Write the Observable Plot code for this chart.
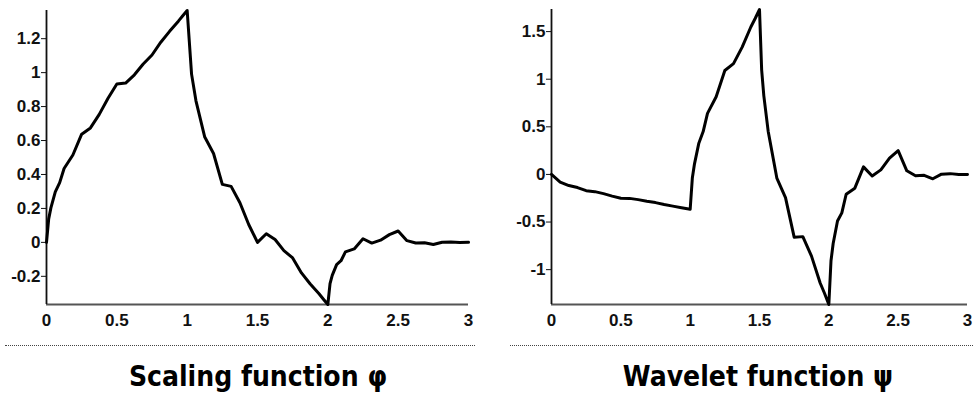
<!DOCTYPE html>
<html>
<head>
<meta charset="utf-8">
<script src="https://cdn.jsdelivr.net/npm/d3@7"></script>
<script src="https://cdn.jsdelivr.net/npm/@observablehq/plot@0.6"></script>
<style>
  html, body { margin: 0; padding: 0; background: #fff; }
  #wrap { position: relative; width: 973px; height: 396px; overflow: hidden; }
  .panel { position: absolute; top: 0; }
  .rule { position: absolute; top: 345px; height: 0; border-top: 1px dotted #444; }
  .title { position: absolute; top: 364px; width: 400px; text-align: center;
           font-family: "DejaVu Sans Condensed", "DejaVu Sans", sans-serif; font-weight: bold;
           font-size: 28px; line-height: 26px; color: #000; white-space: nowrap; }
</style>
</head>
<body>
<div id="wrap">
  <div class="panel" id="left" style="left:0px"></div>
  <div class="panel" id="right" style="left:490px"></div>
  <div class="rule" style="left:5px; width:470px"></div>
  <div class="rule" style="left:510px; width:463px"></div>
  <div class="title" id="t1" style="left:58px"></div>
  <div class="title" id="t2" style="left:558px"></div>
</div>
<script>
// Sample positions and values
const phiX = [0, 0.015625, 0.03125, 0.0625, 0.09375, 0.125, 0.1875, 0.25, 0.3125, 0.375, 0.4375, 0.5,
  0.5625, 0.625, 0.6875, 0.75, 0.8125, 0.875, 0.9375, 0.96875, 1, 1.03125, 1.0625, 1.125, 1.1875, 1.25,
  1.3125, 1.375, 1.4375, 1.5, 1.5625, 1.625, 1.6875, 1.75, 1.8125, 1.875, 1.9375, 1.96875, 2, 2.015625,
  2.03125, 2.0625, 2.09375, 2.125, 2.1875, 2.25, 2.3125, 2.375, 2.4375, 2.5, 2.5625, 2.625, 2.6875, 2.75,
  2.8125, 2.875, 2.9375, 3];
const phiY = [0, 0.1387, 0.2030, 0.2973, 0.3517, 0.4353, 0.5149, 0.6373, 0.6742, 0.7539, 0.8492, 0.9330,
  0.9387, 0.9871, 1.0512, 1.1038, 1.1792, 1.2433, 1.3031, 1.3349, 1.3660, 0.9912, 0.8340, 0.6205, 0.5237, 0.3415,
  0.3301, 0.2333, 0.1052, 0, 0.0511, 0.0167, -0.0488, -0.0915, -0.1799, -0.2455, -0.3027, -0.3349, -0.3660, -0.2430,
  -0.1942, -0.1312, -0.1081, -0.0558, -0.0386, 0.0212, -0.0043, 0.0129, 0.0456, 0.0670, 0.0102, -0.0039, -0.0024, -0.0123,
  0.0007, 0.0022, -0.0004, 0];

const psiX = [0, 0.0625, 0.125, 0.1875, 0.25, 0.3125, 0.375, 0.4375, 0.5, 0.5625, 0.625, 0.6875, 0.75,
  0.8125, 0.875, 0.9375, 1, 1.015625, 1.03125, 1.0625, 1.09375, 1.125, 1.1875, 1.25, 1.3125, 1.375, 1.4375,
  1.46875, 1.5, 1.515625, 1.53125, 1.5625, 1.625, 1.6875, 1.75, 1.8125, 1.875, 1.9375, 1.96875, 2, 2.015625,
  2.03125, 2.0625, 2.09375, 2.125, 2.1875, 2.25, 2.3125, 2.375, 2.4375, 2.5, 2.5625, 2.625, 2.6875, 2.75,
  2.8125, 2.875, 2.9375, 3];
const psiY = [0, -0.0797, -0.1166, -0.1380, -0.1708, -0.1807, -0.2020, -0.2275, -0.25, -0.2515, -0.2645, -0.2817, -0.2958,
  -0.3160, -0.3331, -0.3492, -0.3660, -0.0384, 0.1114, 0.3284, 0.4502, 0.6417, 0.8156, 1.0915, 1.1632, 1.3370, 1.5482,
  1.6376, 1.7321, 1.0955, 0.8251, 0.4545, -0.0380, -0.2430, -0.6585, -0.6532, -0.8583, -1.1403, -1.2480, -1.3660, -0.9068,
  -0.7249, -0.4898, -0.4034, -0.2081, -0.1441, 0.0792, -0.0160, 0.0480, 0.1703, 0.25, 0.0381, -0.0145, -0.0088, -0.0458,
  0.0027, 0.0084, -0.0015, 0];

const xTicks = [0, 0.5, 1, 1.5, 2, 2.5, 3];
const phiTicks = [-0.2, 0, 0.2, 0.4, 0.6, 0.8, 1, 1.2];
const psiTicks = [-1, -0.5, 0, 0.5, 1, 1.5];
const titles = ["Scaling function φ", "Wavelet function ψ"];

const fmt = d => String(+d.toFixed(2));

function panel(xs, ys, yTicks, opts) {
  const data = xs.map((x, i) => ({x, y: ys[i]}));
  const ext = d3.extent(ys);
  return Plot.plot({
    width: opts.width, height: 335,
    marginLeft: opts.ml, marginRight: opts.mr, marginTop: opts.mt, marginBottom: 31,
    style: {fontFamily: "'Liberation Sans', Arial, sans-serif", fontSize: "17px", fontWeight: "bold", color: "#111", background: "transparent", overflow: "visible"},
    x: {domain: [0, 3], ticks: xTicks, tickFormat: fmt, tickSize: 0, tickPadding: 9, label: null},
    y: {domain: ext, ticks: yTicks, tickFormat: fmt, tickSize: 5, tickPadding: 1, label: null},
    marks: [
      Plot.ruleY([ext[0]], {stroke: "#555", strokeWidth: 2.2}),
      Plot.ruleX([0], {stroke: "#111", strokeWidth: 1.8}),
      Plot.line(data, {x: "x", y: "y", stroke: "#000", strokeWidth: 3, strokeLinejoin: "round"})
    ]
  });
}

document.getElementById("left").appendChild(panel(phiX, phiY, phiTicks, {width: 486, ml: 46, mr: 18, mt: 10}));
document.getElementById("right").appendChild(panel(psiX, psiY, psiTicks, {width: 483, ml: 61, mr: 6, mt: 9}));
document.getElementById("t1").textContent = titles[0];
document.getElementById("t2").textContent = titles[1];
</script>
</body>
</html>
